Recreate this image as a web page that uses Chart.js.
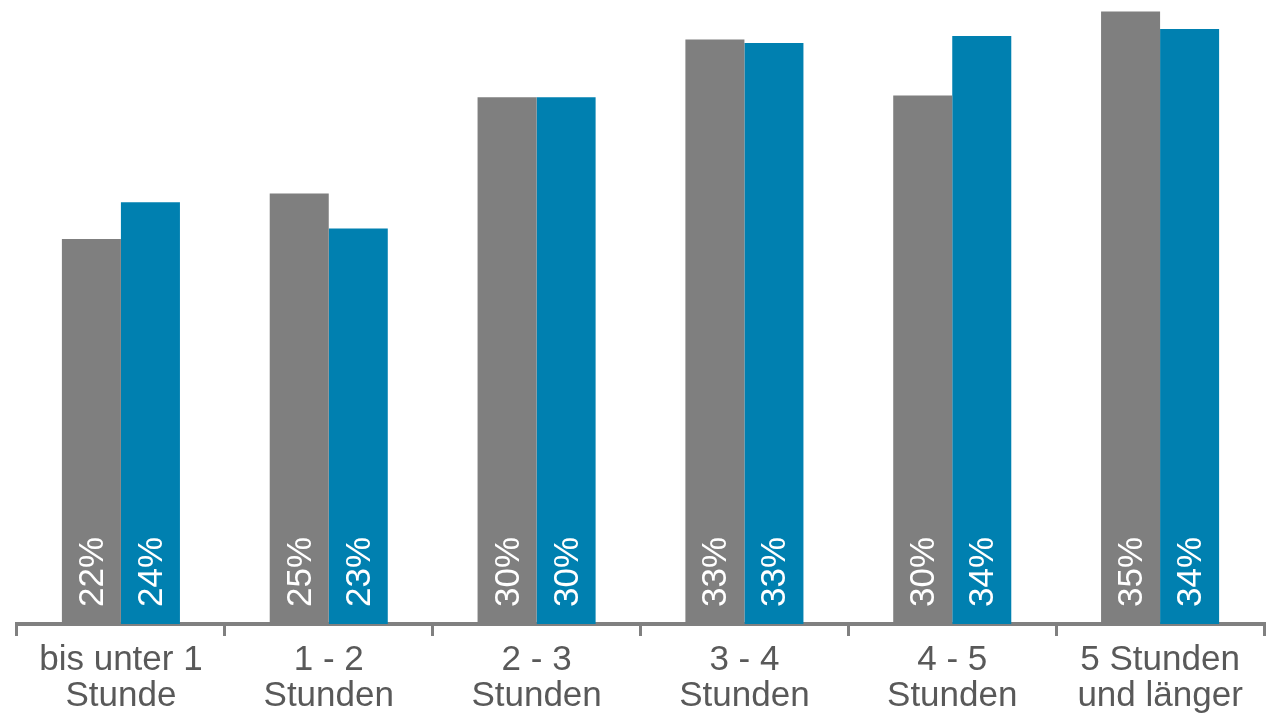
<!DOCTYPE html>
<html lang="de">
<head>
<meta charset="utf-8">
<title>Nutzungsdauer</title>
<script src="https://cdn.jsdelivr.net/npm/chart.js@4.4.1/dist/chart.umd.min.js"></script>
<style>
    html, body { margin: 0; padding: 0; background: #fff; overflow: hidden; }
    #wrap { width: 1271px; height: 715px; }
</style>
</head>
<body>
<div id="wrap"><canvas id="chart"></canvas></div>
<script>
const categories = [
    ['bis unter 1', 'Stunde'],
    ['1 - 2', 'Stunden'],
    ['2 - 3', 'Stunden'],
    ['3 - 4', 'Stunden'],
    ['4 - 5', 'Stunden'],
    ['5 Stunden', 'und länger']
];
const greyValues = [22.0, 24.6, 30.1, 33.4, 30.2, 35.0];
const blueValues = [24.1, 22.6, 30.1, 33.2, 33.6, 34.0];

const GREY = '#7f7f7f';
const BLUE = '#0080b0';
const AXIS = '#808080';
const TEXT = '#595959';
const FONT = '"Liberation Sans", Arial, sans-serif';

// white percent labels, rotated, sitting at the foot of each bar
const barLabels = {
    id: 'barLabels',
    afterDatasetsDraw(chart) {
        const ctx = chart.ctx;
        chart.data.datasets.forEach((ds, i) => {
            chart.getDatasetMeta(i).data.forEach((bar, j) => {
                ctx.save();
                ctx.translate(bar.x + 11.5, bar.base - 17);
                ctx.rotate(-Math.PI / 2);
                ctx.font = '35px ' + FONT;
                ctx.fillStyle = '#fff';
                ctx.textAlign = 'left';
                ctx.textBaseline = 'alphabetic';
                ctx.fillText(Math.round(ds.data[j]) + '%', 0, 0);
                ctx.restore();
            });
        });
    }
};

new Chart(document.getElementById('chart'), {
    type: 'bar',
    data: {
        labels: categories,
        datasets: [
            { label: 'grau', data: greyValues, backgroundColor: GREY },
            { label: 'blau', data: blueValues, backgroundColor: BLUE }
        ]
    },
    options: {
        responsive: true,
        maintainAspectRatio: false,
        animation: false,
        categoryPercentage: 0.568,
        barPercentage: 1,
        layout: { padding: { left: 17, right: 7, top: 0, bottom: 0 } },
        plugins: {
            legend: { display: false },
            tooltip: { enabled: false }
        },
        scales: {
            x: {
                offset: true,
                grid: {
                    offset: true,
                    drawOnChartArea: false,
                    drawTicks: true,
                    tickLength: 12,
                    lineWidth: 3,
                    color: AXIS
                },
                border: { display: true, width: 4, color: AXIS },
                ticks: {
                    color: TEXT,
                    font: { family: FONT, size: 35, lineHeight: 1.03 },
                    padding: 6,
                    maxRotation: 0,
                    autoSkip: false
                },
                afterFit(scale) { scale.height = 91; }
            },
            y: {
                display: false,
                min: 0,
                max: 35.65
            }
        }
    },
    plugins: [barLabels]
});
</script>
</body>
</html>
